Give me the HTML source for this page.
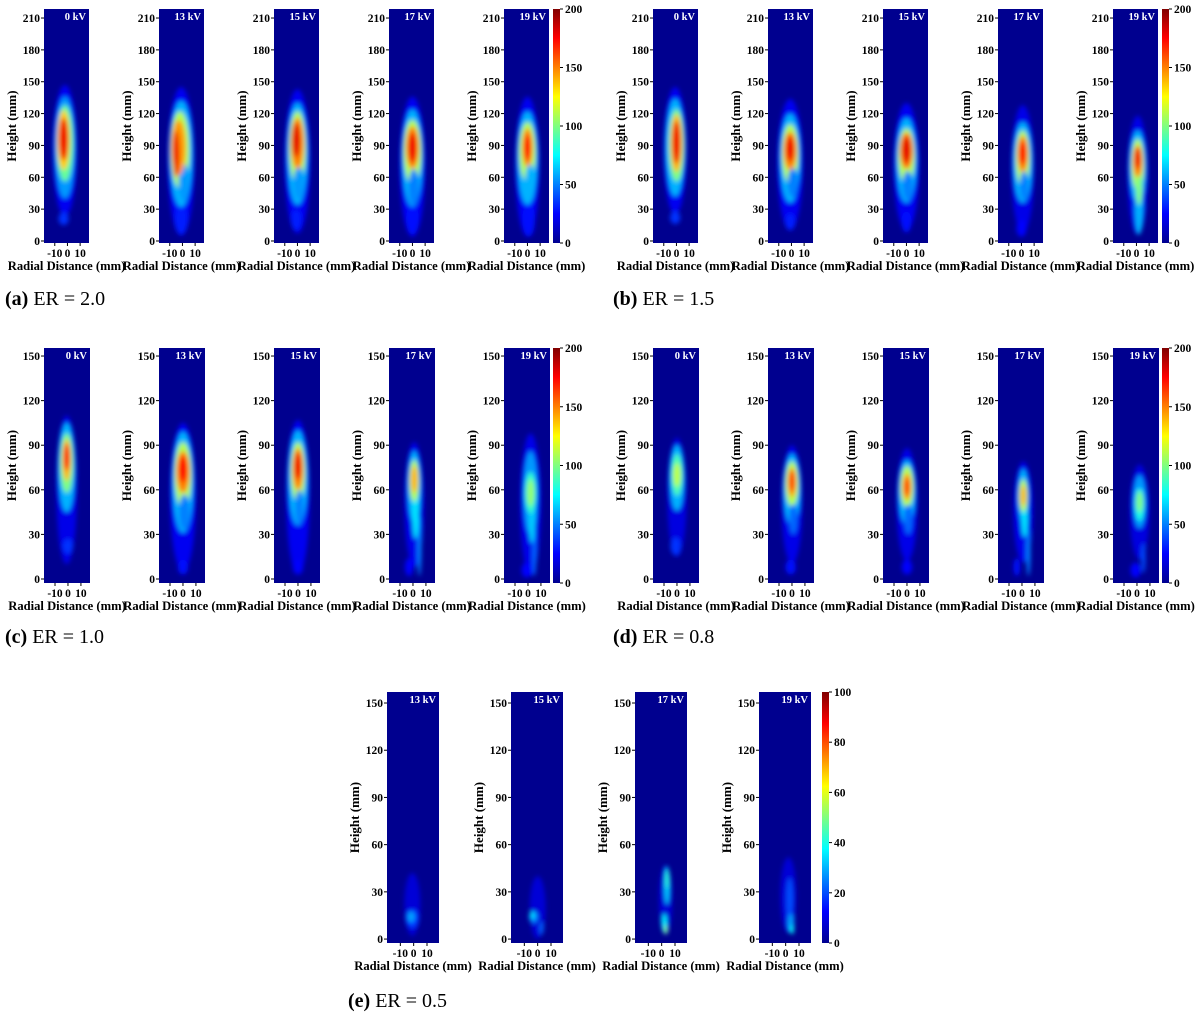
<!DOCTYPE html>
<html><head><meta charset="utf-8">
<style>
html,body{margin:0;padding:0;background:#fff;}
svg{display:block;font-family:"Liberation Serif",serif;}
</style></head>
<body>
<svg id="fig" width="1195" height="1016" viewBox="0 0 1195 1016" xmlns="http://www.w3.org/2000/svg">
<defs>
<linearGradient id="jet" x1="0" y1="1" x2="0" y2="0">
<stop offset="0" stop-color="#00008f"/><stop offset="0.125" stop-color="#0000ff"/>
<stop offset="0.375" stop-color="#00ffff"/><stop offset="0.625" stop-color="#ffff00"/>
<stop offset="0.875" stop-color="#ff0000"/><stop offset="1" stop-color="#800000"/>
</linearGradient>
<filter id="blur" x="-50%" y="-50%" width="200%" height="200%"><feGaussianBlur stdDeviation="2.4"/></filter>
</defs>
</svg>
<script>
// ---- data: per-panel intensity blobs [x_mm, height_mm, rx_mm, ry_mm, value]
const voltagesAD = ['0 kV','13 kV','15 kV','17 kV','19 kV'];
const voltagesE = ['13 kV','15 kV','17 kV','19 kV'];
const rowA = [
 [[-2,85,9.5,62,22],[-3,21,4,6,35],[-2,88,8,48,55],[-2,92,6.5,36,95],[-3,95,5,28,135],[-3,96,3.6,20,178]],
 [[-1,75,10.5,70,22],[-1,20,5,14,30],[-1,82,9,50,60],[-2,86,7.5,36,110],[1,55,4,18,55],[-3,88,5.5,26,145],[-5,82,2.5,22,178]],
 [[0,75,10,68,22],[-1,20,4,10,30],[0,82,8,48,60],[0,88,6.5,34,110],[1,55,4,16,55],[0,92,5,24,150],[-1,95,3.2,16,180]],
 [[0,70,10,66,22],[0,20,5,14,28],[0,78,8,46,60],[0,84,7,30,110],[1,50,4,18,50],[0,88,5,20,150],[0,88,3.2,14,178]],
 [[0,70,9.5,66,22],[1,20,5,16,28],[0,78,8,44,60],[0,84,6.5,28,110],[2,55,4,18,60],[0,88,4,18,150],[0,88,2.5,12,175]]
];
const rowB = [
 [[-1,85,9,60,22],[-1,22,4,6,35],[-1,88,7.5,46,60],[0,90,6,34,100],[0,92,4.5,27,140],[0,93,3.2,20,178]],
 [[-1,72,10,62,22],[-1,18,4,8,30],[-1,78,8,42,60],[-1,82,6.5,28,110],[1,55,4,14,50],[-1,85,5,18,150],[-1,87,3.2,12,178]],
 [[0,70,10,60,22],[0,18,4,10,28],[0,76,8,40,60],[0,80,6.5,26,110],[1,52,4,14,50],[0,85,5,17,155],[0,86,3.2,12,180]],
 [[1,68,9,60,20],[0,12,4,8,25],[1,74,7.5,38,60],[1,78,5.5,26,110],[2,52,3.2,14,50],[1,82,4,17,150],[1,83,2.8,11,175]],
 [[1,62,8,56,20],[2,30,3.2,24,60],[1,70,6.5,34,60],[1,72,5,24,110],[2,50,2.5,16,100],[1,75,3.6,15,150],[1,78,2.5,10,178]]
];
const rowC = [
 [[-1,60,8,50,20],[0,22,4,5,35],[-1,75,6.5,30,60],[-1,78,5,20,100],[-1,80,3.2,14,140],[-1,82,2.5,9,172]],
 [[0,55,10,50,22],[0,8,4,5,28],[0,65,8,34,60],[0,70,6.5,22,110],[1,45,4,12,50],[0,72,5,14,150],[0,74,3.2,9,175]],
 [[0,55,9,52,22],[0,8,4,5,25],[0,68,7.5,32,60],[0,72,5.5,20,110],[1,48,3.2,12,50],[0,74,4,14,150],[0,76,2.8,9,178]],
 [[1,50,7.5,42,20],[5,22,1.6,20,50],[-3,8,3.2,6,25],[1,62,5,24,60],[2,45,2.5,18,70],[1,66,3.6,14,110],[1,67,2.5,9,140]],
 [[2,50,8,48,20],[5,18,1.6,16,45],[-1,6,4,5,25],[2,58,5.5,28,55],[3,40,2.5,16,65],[2,58,4,14,85],[2,58,2.5,9,105]]
];
const rowD = [
 [[0,55,7.5,40,18],[-1,22,4,6,35],[0,68,5.5,22,60],[0,70,4,14,90],[0,70,2.8,8,112]],
 [[0,50,8,40,20],[-1,8,4,5,28],[0,60,6.5,24,60],[0,64,5,15,110],[1,40,3.2,10,45],[0,65,3.2,10,145],[0,66,2.5,7,162]],
 [[0,50,8,38,20],[0,8,4,5,25],[0,58,6.5,22,60],[0,62,5,14,110],[1,40,3.2,10,45],[0,62,3.2,9,145],[0,62,2.5,6,160]],
 [[1,45,7.5,34,20],[5,18,1.6,16,50],[-4,8,2.5,6,28],[1,56,4,18,60],[2,42,2.5,14,70],[1,56,3.2,11,110],[1,56,2,7,140]],
 [[2,45,7.5,32,18],[5,14,1.6,10,40],[-1,6,4,5,25],[2,52,5,18,55],[2,50,3.2,11,80],[2,52,2.5,7,100]]
];
const rowE = [
 [[-1,22,6,20,8],[-1,13,5,6,18],[-2,14,3,3.5,28]],
 [[0,20,6,20,8],[-3,14,3.5,4,24],[3,7,1.6,4,22],[-4,15,2,2.5,34]],
 [[3,25,5,22,8],[4,34,2,12,32],[2,10,2,6,36],[3,6,1.2,3,50],[4,38,1.2,6,42]],
 [[2,28,6,24,8],[3,25,2.5,14,20],[4,10,2.5,6,28],[5,6,1.2,3,38]]
];
const ticksTall = [0,30,60,90,120,150,180,210];
const ticksShort = [0,30,60,90,120,150];
const ticksX = [-10,0,10];
const cbTicks200 = [0,50,100,150,200];
const cbTicks100 = [0,20,40,60,80,100];

const layout = [
 {id:'a', data:rowA, labels:voltagesAD, x0:44, dx:115, w:45, y0:9, h:234, ymin:-1.9, ymax:218.5, yt:ticksTall, xmin:-18.5, xmax:17, vmax:200, cx:553, cbt:cbTicks200, cap:'(a)', capText:' ER = 2.0', capX:5, capY:305},
 {id:'b', data:rowB, labels:voltagesAD, x0:653, dx:115, w:45, y0:9, h:234, ymin:-1.9, ymax:218.5, yt:ticksTall, xmin:-18.5, xmax:17, vmax:200, cx:1162, cbt:cbTicks200, cap:'(b)', capText:' ER = 1.5', capX:613, capY:305},
 {id:'c', data:rowC, labels:voltagesAD, x0:44, dx:115, w:46, y0:348, h:235, ymin:-2.7, ymax:155.4, yt:ticksShort, xmin:-18.5, xmax:17, vmax:200, cx:553, cbt:cbTicks200, cap:'(c)', capText:' ER = 1.0', capX:5, capY:643},
 {id:'d', data:rowD, labels:voltagesAD, x0:653, dx:115, w:46, y0:348, h:235, ymin:-2.7, ymax:155.4, yt:ticksShort, xmin:-18.5, xmax:17, vmax:200, cx:1162, cbt:cbTicks200, cap:'(d)', capText:' ER = 0.8', capX:613, capY:643},
 {id:'e', data:rowE, labels:voltagesE, x0:387, dx:124, w:52, y0:692, h:251, ymin:-2.5, ymax:157, yt:ticksShort, xmin:-20, xmax:19, vmax:100, cx:822, cbt:cbTicks100, cap:'(e)', capText:' ER = 0.5', capX:348, capY:1007}
];

const NS='http://www.w3.org/2000/svg';
const svg=document.getElementById('fig');
function mk(tag,attrs,parent){const e=document.createElementNS(NS,tag);for(const k in attrs)e.setAttribute(k,attrs[k]);(parent||svg).appendChild(e);return e;}
function jet(t){t=Math.max(0,Math.min(1,t));const c=v=>Math.round(255*Math.max(0,Math.min(1,v)));
 let r=c(1.5-Math.abs(4*t-3)),g=c(1.5-Math.abs(4*t-2)),b=c(1.5-Math.abs(4*t-1));
 if(t<0.125){b=Math.round(143+(255-143)*t/0.125);} return `rgb(${r},${g},${b})`;}

layout.forEach(R=>{
 const yS=v=>R.y0+R.h-(v-R.ymin)/(R.ymax-R.ymin)*R.h;
 R.data.forEach((blobs,i)=>{
  const px=R.x0+i*R.dx;
  const xS=v=>px+(v-R.xmin)/(R.xmax-R.xmin)*R.w;
  const kx=R.w/(R.xmax-R.xmin), ky=R.h/(R.ymax-R.ymin);
  const g=mk('g',{});
  
  
  const cid='clip'+R.id+i;
  const cp=mk('clipPath',{id:cid},g); mk('rect',{x:px,y:R.y0,width:R.w,height:R.h},cp);
  const bg=mk('rect',{x:px,y:R.y0,width:R.w,height:R.h,fill:'#00008f'},g);
  
  
  const inner=mk('g',{'clip-path':'url(#'+cid+')'},g);
  const bl=mk('g',{filter:'url(#blur)'},inner);
  blobs.forEach(b=>{
   const el=mk('ellipse',{cx:xS(b[0]),cy:yS(b[1]),rx:b[2]*kx,ry:b[3]*ky,fill:jet(b[4]/R.vmax)},bl);
   
   
  });
  const vl=mk('text',{x:px+R.w-3,y:R.y0+11,'text-anchor':'end','font-size':'10.5','font-weight':'bold',fill:'#fff'},g);
  vl.textContent=R.labels[i];
  
  
  R.yt.forEach(t=>{
   const y=yS(t);
   mk('line',{x1:px-3,x2:px,y1:y,y2:y,stroke:'#000','stroke-width':1},g);
   const tl=mk('text',{x:px-4,y:y+4,'text-anchor':'end','font-size':'11.5','font-weight':'bold'},g);
   tl.textContent=t;
   
   
  });
  ticksX.forEach(t=>{
   const x=xS(t);
   mk('line',{x1:x,x2:x,y1:R.y0+R.h,y2:R.y0+R.h+3,stroke:'#000','stroke-width':1},g);
   const tl=mk('text',{x:x,y:R.y0+R.h+14,'text-anchor':'middle','font-size':'11.5','font-weight':'bold'},g);
   tl.textContent=t;
   
   
  });
  const yt=mk('text',{x:0,y:0,'text-anchor':'middle','font-size':'13','font-weight':'bold',transform:`translate(${px-28},${R.y0+R.h/2}) rotate(-90)`},g);
  yt.textContent='Height (mm)';
  
  
  const xt=mk('text',{x:px+R.w/2,y:R.y0+R.h+27,'text-anchor':'middle','font-size':'12.6','font-weight':'bold'},g);
  xt.textContent='Radial Distance (mm)';
  
  
 });
 const cg=mk('g',{});
 
 
 mk('rect',{x:R.cx,y:R.y0,width:7,height:R.h,fill:'url(#jet)'},cg);
 R.cbt.forEach(t=>{
  const y=R.y0+R.h-t/R.vmax*R.h;
  mk('line',{x1:R.cx+7,x2:R.cx+10,y1:y,y2:y,stroke:'#000'},cg);
  const tl=mk('text',{x:R.cx+12,y:y+4,'font-size':'11.5','font-weight':'bold'},cg);
  tl.textContent=t;
  
  
 });
 const cap=mk('text',{x:R.capX,y:R.capY,'font-size':'20'});
 
 
 const b=mk('tspan',{'font-weight':'bold'},cap); b.textContent=R.cap;
 const s=mk('tspan',{},cap); s.textContent=R.capText;
});
</script>
</body></html>
